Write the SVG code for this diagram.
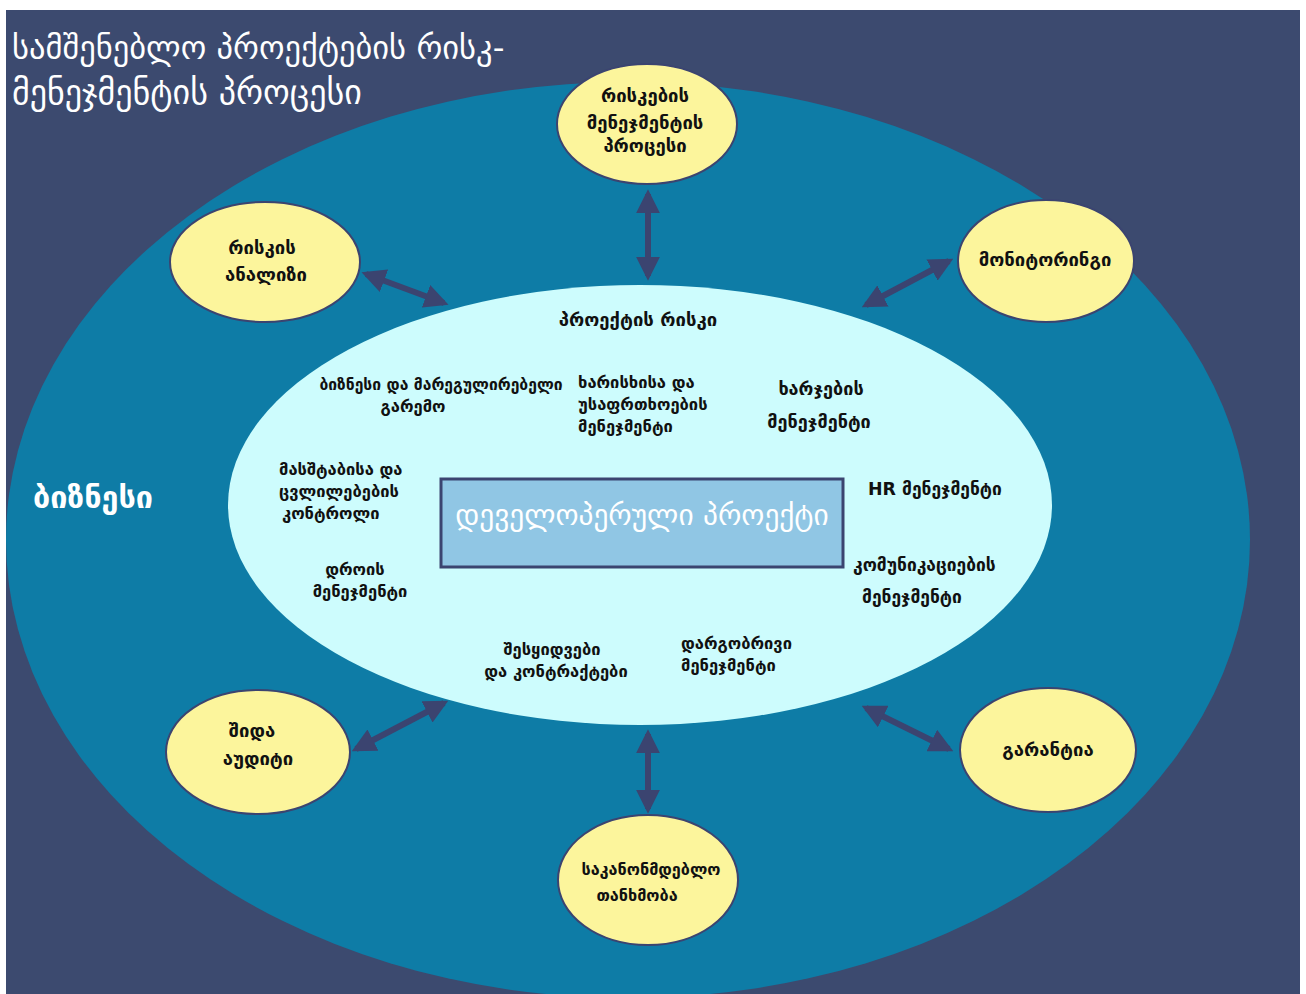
<svg xmlns="http://www.w3.org/2000/svg" width="1306" height="994" viewBox="0 0 1306 994">
<defs>
<style>
.bg{fill:#3c4a6f}
.outer{fill:#0e7ca6}
.inner{fill:#cdfcfd}
.node{fill:#fcf59c;stroke:#3b4470;stroke-width:2}
.t{font-family:"DejaVu Sans",sans-serif;font-weight:bold;font-size:16.5px;fill:#111}
.tn{font-family:"DejaVu Sans",sans-serif;font-weight:bold;font-size:18.5px;fill:#111}
.c{text-anchor:middle}
.conn{stroke:#3b4470;stroke-width:6;fill:none;marker-start:url(#ah);marker-end:url(#ah)}
</style>
<marker id="ah" viewBox="0 0 10 10" refX="8" refY="5" markerWidth="4" markerHeight="4" orient="auto-start-reverse">
<path d="M0,0 L10,5 L0,10 z" fill="#3b4470"/>
</marker>
</defs>
<rect x="0" y="0" width="1306" height="994" fill="#fff"/>
<rect class="bg" x="6" y="10" width="1294" height="984"/>
<ellipse class="outer" cx="628" cy="540" rx="622" ry="458"/>
<ellipse class="inner" cx="640" cy="505" rx="412" ry="220"/>

<g id="title">
<text x="12" y="59" font-family="DejaVu Sans, sans-serif" font-size="32.5" fill="#fff">სამშენებლო პროექტების რისკ-</text>
<text x="12" y="104" font-family="DejaVu Sans, sans-serif" font-size="34" fill="#fff">მენეჯმენტის პროცესი</text>
</g>

<g id="connectors">
<line class="conn" x1="648" y1="194" x2="648" y2="276"/>
<line class="conn" x1="366" y1="274" x2="444" y2="303"/>
<line class="conn" x1="949" y1="261" x2="866" y2="305"/>
<line class="conn" x1="356" y1="749" x2="444" y2="703"/>
<line class="conn" x1="949" y1="749" x2="866" y2="708"/>
<line class="conn" x1="648" y1="734" x2="648" y2="809"/>
</g>

<g id="node-risk-process">
<ellipse class="node" cx="647" cy="124" rx="90" ry="60"/>
<text class="tn c" x="645" y="102">რისკების</text>
<text class="tn c" x="645" y="129">მენეჯმენტის</text>
<text class="tn c" x="645" y="152">პროცესი</text>
</g>
<g id="node-risk-analysis">
<ellipse class="node" cx="265" cy="262" rx="95" ry="60"/>
<text class="tn c" x="262" y="254">რისკის</text>
<text class="tn c" x="266" y="281">ანალიზი</text>
</g>
<g id="node-monitoring">
<ellipse class="node" cx="1046" cy="261" rx="88" ry="61"/>
<text class="tn c" x="1045" y="266">მონიტორინგი</text>
</g>
<g id="node-internal-audit">
<ellipse class="node" cx="258" cy="752" rx="92" ry="62"/>
<text class="tn c" x="252" y="737">შიდა</text>
<text class="tn c" x="258" y="765">აუდიტი</text>
</g>
<g id="node-guarantee">
<ellipse class="node" cx="1048" cy="750" rx="88" ry="62"/>
<text class="tn c" x="1048" y="756">გარანტია</text>
</g>
<g id="node-legal">
<ellipse class="node" cx="648" cy="880" rx="90" ry="65"/>
<text class="tn c" x="651" y="875" style="font-size:16.2px">საკანონმდებლო</text>
<text class="tn c" x="637" y="901" style="font-size:16.2px">თანხმობა</text>
</g>

<g id="node-project-risk">
<text class="tn c" x="638" y="326">პროექტის რისკი</text>
<text class="t c" x="441" y="390" style="font-size:15.7px">ბიზნესი და მარეგულირებელი</text>
<text class="t c" x="413" y="412">გარემო</text>
<text class="t" x="578" y="388">ხარისხისა და</text>
<text class="t" x="578" y="410">უსაფრთხოების</text>
<text class="t" x="578" y="432">მენეჯმენტი</text>
<text class="t c" x="821" y="395" style="font-size:18px">ხარჯების</text>
<text class="t c" x="819" y="428" style="font-size:18px">მენეჯმენტი</text>
<text class="t" x="279" y="475">მასშტაბისა და</text>
<text class="t" x="279" y="497">ცვლილებების</text>
<text class="t" x="282" y="519">კონტროლი</text>
<text class="t c" x="355" y="575">დროის</text>
<text class="t c" x="360" y="597">მენეჯმენტი</text>
<text class="t" x="868" y="495" style="font-size:17.4px">HR მენეჯმენტი</text>
<text class="t" x="853" y="571" style="font-size:17.4px">კომუნიკაციების</text>
<text class="t" x="862" y="603" style="font-size:17.4px">მენეჯმენტი</text>
<text class="t c" x="552" y="655">შესყიდვები</text>
<text class="t c" x="556" y="677">და კონტრაქტები</text>
<text class="t" x="681" y="649">დარგობრივი</text>
<text class="t" x="681" y="671">მენეჯმენტი</text>
</g>

<g id="node-business">
<text x="33" y="508" font-family="DejaVu Sans, sans-serif" font-weight="bold" font-size="30.5" fill="#fff">ბიზნესი</text>
</g>

<g id="node-development-project">
<rect x="441" y="479" width="402" height="88" fill="#90c6e4" stroke="#3b4470" stroke-width="3"/>
<text x="642" y="525" text-anchor="middle" font-family="DejaVu Sans, sans-serif" font-size="29.4" fill="#fff">დეველოპერული პროექტი</text>
</g>
</svg>
